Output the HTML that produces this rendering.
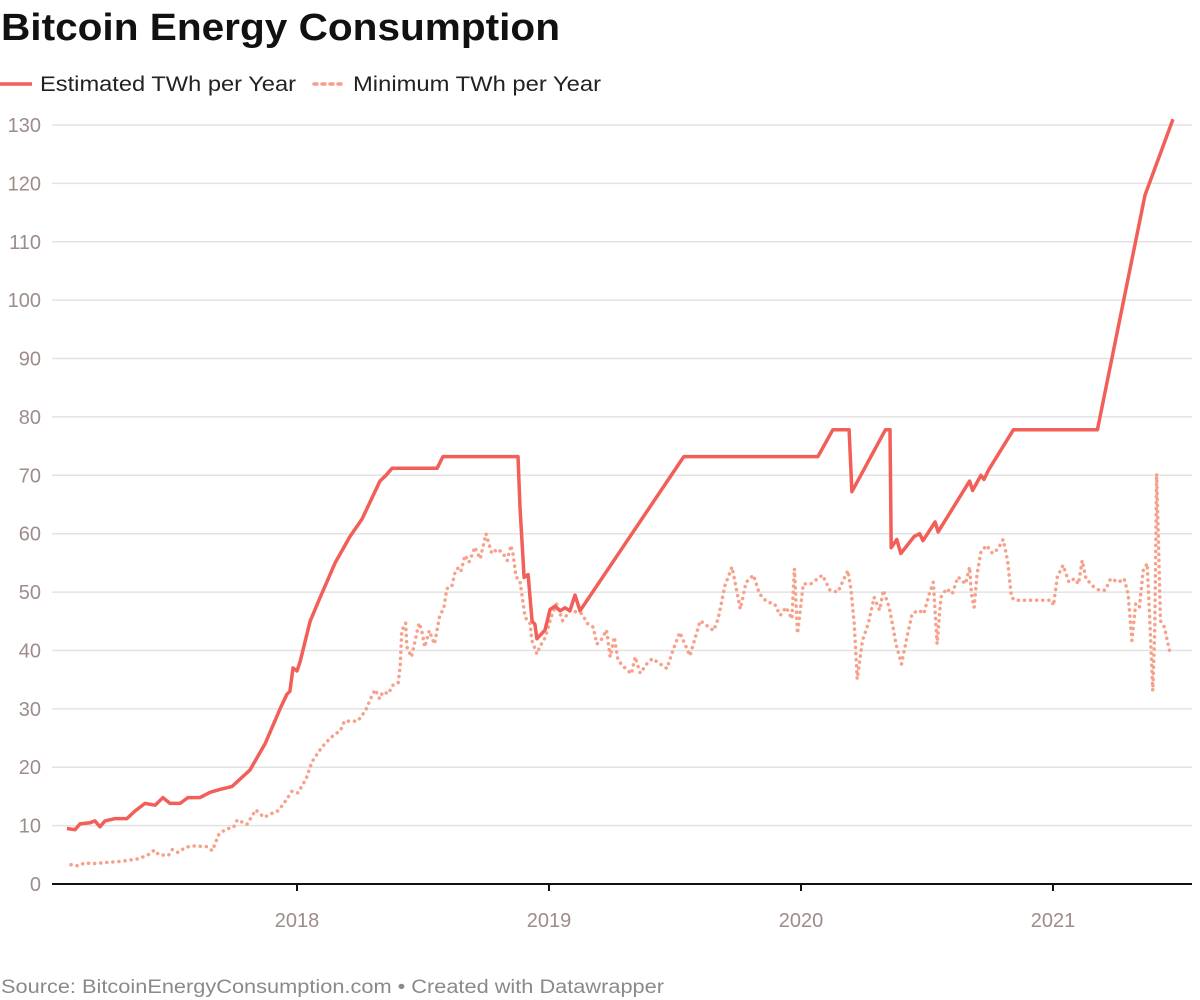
<!DOCTYPE html>
<html><head><meta charset="utf-8"><style>
html,body{margin:0;padding:0;background:#fff;}
svg{display:block;font-family:"Liberation Sans",sans-serif;}
</style></head><body>
<svg id="chart" width="1200" height="1000" viewBox="0 0 1200 1000">
<text x="1" y="40" font-size="38" font-weight="bold" fill="#111" textLength="559" lengthAdjust="spacingAndGlyphs">Bitcoin Energy Consumption</text>
<g>
<g>
<line x1="0" y1="84" x2="32" y2="84" stroke="#f25e58" stroke-width="3.5"/>
<text x="40" y="91" font-size="21" fill="#222" textLength="256" lengthAdjust="spacingAndGlyphs">Estimated TWh per Year</text>
</g>
<g>
<line x1="314" y1="84" x2="344" y2="84" stroke="#f7a08a" stroke-width="3.5" stroke-dasharray="3,5" stroke-linecap="round"/>
<text x="353" y="91" font-size="21" fill="#222" textLength="248" lengthAdjust="spacingAndGlyphs">Minimum TWh per Year</text>
</g>
</g>
<g id="grid"></g>
<g id="yaxis"></g>
<g id="xaxis"></g>
<g id="series"></g>
<text x="1" y="993" font-size="19" fill="#8a8a8a" textLength="663" lengthAdjust="spacingAndGlyphs">Source: BitcoinEnergyConsumption.com • Created with Datawrapper</text>
</svg>
<script>
const yTicks = [0,10,20,30,40,50,60,70,80,90,100,110,120,130];
const xTickYears = [2018,2019,2020,2021];
const xTickLabels = ["2018","2019","2020","2021"];
const estDates = [2017.087,2017.119,2017.139,2017.179,2017.198,2017.218,2017.238,2017.278,2017.325,2017.357,2017.397,2017.437,2017.468,2017.496,2017.536,2017.567,2017.615,2017.655,2017.694,2017.742,2017.813,2017.873,2017.933,2017.960,2017.972,2017.984,2018.0,2018.012,2018.052,2018.091,2018.151,2018.210,2018.258,2018.329,2018.353,2018.377,2018.556,2018.579,2018.877,2018.885,2018.901,2018.917,2018.933,2018.944,2018.952,2018.984,2019.004,2019.024,2019.044,2019.063,2019.083,2019.103,2019.123,2019.535,2020.067,2020.126,2020.191,2020.202,2020.335,2020.353,2020.358,2020.380,2020.396,2020.449,2020.471,2020.484,2020.532,2020.544,2020.669,2020.681,2020.714,2020.726,2020.744,2020.843,2021.176,2021.365,2021.476];
const estValues = [9.5,9.3,10.3,10.5,10.8,9.8,10.8,11.2,11.2,12.5,13.8,13.5,14.8,13.8,13.8,14.8,14.8,15.7,16.2,16.7,19.5,24,30,32.5,33,37,36.5,38,45,49,55,59.5,62.5,69,70,71.2,71.2,73.2,73.2,64.5,52.5,53,45,44.5,42,43.5,47,47.6,46.8,47.3,46.8,49.5,46.8,73.2,73.2,77.8,77.8,67.2,77.8,77.8,57.6,59,56.6,59.5,60,58.8,62,60.3,69,67.4,70,69.3,70.9,77.8,77.8,118,131];
const minDates = [2017.103,2017.133,2017.156,2017.194,2017.247,2017.308,2017.368,2017.406,2017.434,2017.452,2017.490,2017.505,2017.528,2017.558,2017.588,2017.642,2017.664,2017.690,2017.718,2017.748,2017.763,2017.801,2017.836,2017.869,2017.900,2017.923,2017.945,2017.980,2018.003,2018.036,2018.059,2018.090,2018.112,2018.143,2018.173,2018.188,2018.241,2018.272,2018.295,2018.310,2018.328,2018.340,2018.363,2018.378,2018.401,2018.409,2018.416,2018.431,2018.436,2018.454,2018.469,2018.484,2018.495,2018.507,2018.525,2018.545,2018.553,2018.565,2018.583,2018.595,2018.614,2018.629,2018.644,2018.651,2018.667,2018.682,2018.697,2018.705,2018.727,2018.750,2018.773,2018.796,2018.818,2018.834,2018.849,2018.857,2018.869,2018.884,2018.890,2018.905,2018.925,2018.932,2018.952,2018.963,2018.986,2019.008,2019.031,2019.054,2019.085,2019.130,2019.153,2019.175,2019.190,2019.206,2019.228,2019.243,2019.259,2019.274,2019.304,2019.327,2019.342,2019.362,2019.388,2019.410,2019.441,2019.468,2019.494,2019.519,2019.559,2019.600,2019.653,2019.671,2019.698,2019.726,2019.759,2019.782,2019.812,2019.835,2019.865,2019.895,2019.918,2019.941,2019.964,2019.974,2019.986,2020.009,2020.039,2020.085,2020.115,2020.146,2020.168,2020.186,2020.199,2020.211,2020.223,2020.244,2020.267,2020.290,2020.312,2020.327,2020.350,2020.365,2020.377,2020.399,2020.418,2020.441,2020.468,2020.487,2020.509,2020.525,2020.540,2020.555,2020.578,2020.600,2020.623,2020.653,2020.669,2020.676,2020.687,2020.699,2020.714,2020.737,2020.760,2020.782,2020.802,2020.820,2020.835,2020.850,2020.994,2021.002,2021.017,2021.040,2021.063,2021.085,2021.101,2021.116,2021.131,2021.161,2021.184,2021.207,2021.229,2021.260,2021.282,2021.298,2021.313,2021.328,2021.343,2021.358,2021.374,2021.384,2021.396,2021.404,2021.411,2021.419,2021.426,2021.442,2021.465];
const minValues = [3.3,3.1,3.6,3.5,3.7,3.9,4.3,4.9,5.8,5,4.9,5.9,5.4,6.3,6.5,6.4,5.7,8.5,9.4,9.7,11,10.2,12.7,11.4,12.1,12.5,13.6,15.9,15.6,18,20.9,22.9,24.1,25.4,26.3,27.9,27.9,29.7,32,33.3,31.7,32.9,32.6,34,34.4,37.1,43.4,44.7,40.6,38.9,41.7,44.7,43.4,40.6,43.4,41.1,42.9,45.7,47.4,50.6,50.9,53.7,54.3,53.7,56.3,55.1,56.6,57.7,55.7,60,56.6,57.4,56.6,55.4,58,56.6,52.6,52,50.3,45.7,44.6,41.7,39.4,40.6,42.3,45.7,48,45.1,46.9,46.3,44.6,44,41.1,41.7,43.5,38.9,42.3,38.3,36.9,36,38.9,36.1,37.7,38.6,37.7,36.9,40.3,43.1,39.1,45.1,43.4,45.4,51.1,54.3,47.1,51.7,52.9,49.7,48.3,48,46,47.4,45.4,54,42.9,51.4,51.4,52.9,50.3,50,52,53.7,50.3,44.6,35.1,41.7,44.6,49.1,46.9,50.3,47.4,44,41.1,37.7,41.7,46.3,46.9,46.3,49.7,51.7,41.1,49.1,50.6,49.7,52.6,51.4,54.3,49.7,47.4,53.1,56.9,58,56.6,57.4,59,55.4,49.1,48.6,48.6,47.7,52.6,54.6,51.7,52.3,51.4,55.4,52.3,50.9,50.3,50.3,52.3,51.7,52.3,49.7,41.7,48,47.4,53.7,54.9,45.1,33.1,44,70.3,57.7,45.1,44,39.4];

const NS = "http://www.w3.org/2000/svg";
const plotL = 52, plotR = 1192, y0px = 884, y130px = 125;
function yScale(v){ return y0px - (v/130)*(y0px - y130px); }
function xScale(yr){ return 297 + (yr - 2018)*252; }
function mk(tag, attrs, parent){ const e=document.createElementNS(NS,tag); for(const k in attrs) e.setAttribute(k, attrs[k]); parent.appendChild(e); return e; }

const grid = document.getElementById('grid');
const yaxis = document.getElementById('yaxis');
yTicks.forEach(t => {
  if (t > 0) {
    const gl = mk('line',{x1:plotL,x2:plotR,y1:yScale(t),y2:yScale(t),stroke:'#e3e3e3','stroke-width':1.5},grid);
    
    
  }
  const lb = mk('text',{x:41,y:yScale(t)+7,'text-anchor':'end','font-size':20,fill:'#9c8c8a'},yaxis);
  
  
  lb.textContent = t;
});
const xaxis = document.getElementById('xaxis');
const base = mk('line',{x1:plotL,x2:plotR,y1:y0px,y2:y0px,stroke:'#111','stroke-width':2},xaxis);


xTickYears.forEach((yr,i) => {
  const tk = mk('line',{x1:xScale(yr),x2:xScale(yr),y1:y0px,y2:y0px+7,stroke:'#111','stroke-width':2},xaxis);
  
  
  const lb = mk('text',{x:xScale(yr),y:927,'text-anchor':'middle','font-size':20,fill:'#9c8c8a'},xaxis);
  
  
  lb.textContent = xTickLabels[i];
});
const series = document.getElementById('series');
function pts(d,v){ return d.map((x,i)=>xScale(x).toFixed(1)+','+yScale(v[i]).toFixed(1)).join(' '); }
const minLine = mk('polyline',{points:pts(minDates,minValues),fill:'none',stroke:'#f7a08a','stroke-width':3.5,'stroke-dasharray':'0.1,6','stroke-linecap':'round','stroke-linejoin':'round'},series);


const estLine = mk('polyline',{points:pts(estDates,estValues),fill:'none',stroke:'#f25e58','stroke-width':3.5,'stroke-linejoin':'round'},series);


</script>
</body></html>
